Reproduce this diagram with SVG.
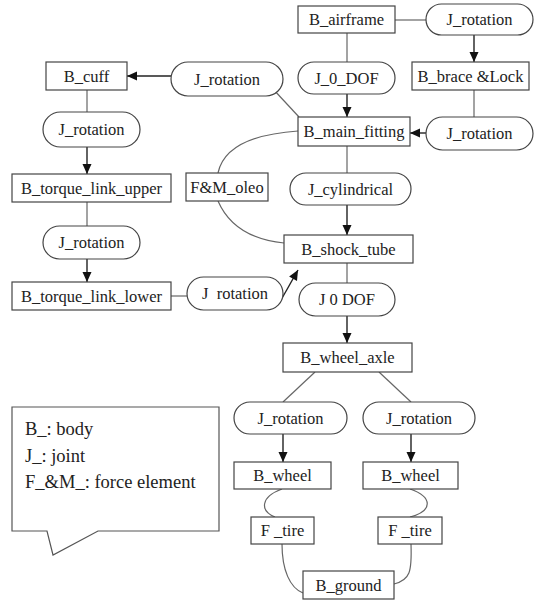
<svg xmlns="http://www.w3.org/2000/svg" width="543" height="601" viewBox="0 0 543 601">
<defs>
<marker id="ah" markerUnits="userSpaceOnUse" markerWidth="12" markerHeight="12" viewBox="0 0 12 12" refX="11" refY="6" orient="auto">
<path d="M1,1.5 L11,6 L1,10.5 Z" fill="#111"/>
</marker>
<style>
.b{fill:#fff;stroke:#444;stroke-width:1.2}
.t{font-family:"Liberation Serif","Times New Roman",serif;font-size:16.5px;fill:#222;text-anchor:middle}
.l{fill:none;stroke:#666;stroke-width:1.2}
.a{fill:none;stroke:#222;stroke-width:1.4;marker-end:url(#ah)}
.g{font-family:"Liberation Serif","Times New Roman",serif;font-size:18.5px;fill:#222}
</style>
</defs>
<rect width="543" height="601" fill="#fff"/>
<g id="connectors">
<line class="l" x1="395" y1="20" x2="426" y2="20"/>
<line class="a" x1="474" y1="35" x2="474" y2="62"/>
<line class="l" x1="474" y1="90" x2="474" y2="117"/>
<line class="a" x1="426" y1="133" x2="410" y2="133"/>
<line class="l" x1="347" y1="33" x2="347" y2="62"/>
<line class="a" x1="347" y1="94" x2="347" y2="117"/>
<line class="a" x1="171" y1="76" x2="127" y2="76"/>
<line class="l" x1="273" y1="89" x2="299" y2="117"/>
<line class="l" x1="87" y1="90" x2="87" y2="112"/>
<line class="a" x1="87" y1="147" x2="87" y2="174"/>
<line class="l" x1="87" y1="202" x2="87" y2="226"/>
<line class="a" x1="87" y1="259" x2="87" y2="282"/>
<line class="l" x1="171" y1="296" x2="187" y2="296"/>
<line class="a" x1="281" y1="300" x2="298" y2="270"/>
<line class="l" x1="347" y1="146" x2="347" y2="173"/>
<line class="a" x1="347" y1="205" x2="347" y2="235"/>
<path class="l" d="M218,173 Q226,136 298,131"/>
<path class="l" d="M218,201 Q234,238 284,243"/>
<line class="l" x1="347" y1="263" x2="347" y2="283"/>
<line class="a" x1="347" y1="316" x2="347" y2="343"/>
<line class="l" x1="315" y1="372" x2="283" y2="402"/>
<line class="l" x1="379" y1="372" x2="411" y2="402"/>
<line class="a" x1="283" y1="434" x2="283" y2="462"/>
<line class="a" x1="411" y1="434" x2="411" y2="462"/>
<path class="l" d="M282,489 C260,497 260,511 275,517"/>
<path class="l" d="M410,489 C433,497 433,511 410,517"/>
<path class="l" d="M282,544 C282,570 290,588 303,593"/>
<path class="l" d="M411,544 C412,572 410,580 394,584"/>
</g>
<g id="B_airframe"><rect class="b" x="298" y="6" width="97" height="27"/><text class="t" x="346.5" y="25">B_airframe</text></g>
<g id="J_rotation_top"><rect class="b" x="426" y="4" width="107" height="31" rx="15.5"/><text class="t" x="479.5" y="25">J_rotation</text></g>
<g id="B_brace_Lock"><rect class="b" x="412" y="62" width="117" height="28"/><text class="t" x="470.5" y="82">B_brace &amp;Lock</text></g>
<g id="J_0_DOF_top"><rect class="b" x="298" y="62" width="97" height="32" rx="16"/><text class="t" x="346.5" y="84">J_0_DOF</text></g>
<g id="B_main_fitting"><rect class="b" x="298" y="117" width="112" height="29"/><text class="t" x="354" y="137">B_main_fitting</text></g>
<g id="J_rotation_mf"><rect class="b" x="426" y="117" width="107" height="33" rx="16.5"/><text class="t" x="479.5" y="139">J_rotation</text></g>
<g id="J_rotation_cuff"><rect class="b" x="171" y="62" width="112" height="34" rx="17"/><text class="t" x="227" y="85">J_rotation</text></g>
<g id="B_cuff"><rect class="b" x="46" y="62" width="81" height="28"/><text class="t" x="86.5" y="82">B_cuff</text></g>
<g id="J_rotation_l1"><rect class="b" x="43" y="112" width="97" height="35" rx="17.5"/><text class="t" x="91.5" y="135">J_rotation</text></g>
<g id="B_torque_link_upper"><rect class="b" x="12" y="174" width="159" height="28"/><text class="t" x="91.5" y="194">B_torque_link_upper</text></g>
<g id="F_M_oleo"><rect class="b" x="186" y="173" width="82" height="28"/><text class="t" x="227" y="193">F&amp;M_oleo</text></g>
<g id="J_cylindrical"><rect class="b" x="290" y="173" width="121" height="32" rx="16"/><text class="t" x="350.5" y="195">J_cylindrical</text></g>
<g id="B_shock_tube"><rect class="b" x="284" y="235" width="129" height="28"/><text class="t" x="348.5" y="255">B_shock_tube</text></g>
<g id="J_rotation_l2"><rect class="b" x="43" y="226" width="97" height="33" rx="16.5"/><text class="t" x="91.5" y="248">J_rotation</text></g>
<g id="B_torque_link_lower"><rect class="b" x="12" y="282" width="159" height="28"/><text class="t" x="91.5" y="302">B_torque_link_lower</text></g>
<g id="J_rotation_l3"><rect class="b" x="187" y="277" width="96" height="33" rx="16.5"/><text class="t" x="235" y="299" xml:space="preserve">J  rotation</text></g>
<g id="J_0_DOF_low"><rect class="b" x="299" y="283" width="96" height="33" rx="16.5"/><text class="t" x="347" y="305">J 0 DOF</text></g>
<g id="B_wheel_axle"><rect class="b" x="283" y="343" width="129" height="29"/><text class="t" x="347.5" y="363">B_wheel_axle</text></g>
<g id="J_rotation_w1"><rect class="b" x="234" y="402" width="113" height="32" rx="16"/><text class="t" x="290.5" y="424">J_rotation</text></g>
<g id="J_rotation_w2"><rect class="b" x="363" y="402" width="112" height="32" rx="16"/><text class="t" x="419" y="424">J_rotation</text></g>
<g id="B_wheel_1"><rect class="b" x="234" y="462" width="97" height="27"/><text class="t" x="282.5" y="481">B_wheel</text></g>
<g id="B_wheel_2"><rect class="b" x="363" y="462" width="95" height="27"/><text class="t" x="410.5" y="481">B_wheel</text></g>
<g id="F_tire_1"><rect class="b" x="251" y="517" width="63" height="27"/><text class="t" x="282.5" y="536">F _tire</text></g>
<g id="F_tire_2"><rect class="b" x="378" y="517" width="64" height="27"/><text class="t" x="410" y="536">F _tire</text></g>
<g id="B_ground"><rect class="b" x="303" y="571" width="91" height="28"/><text class="t" x="348.5" y="591">B_ground</text></g>
<g id="legend">
<path d="M12,407 H219 V531 H98 L53,555 L47,531 H12 Z" fill="#fff" stroke="#555" stroke-width="1.2"/>
<text class="g" x="25" y="435">B_: body</text>
<text class="g" x="25" y="462">J_: joint</text>
<text class="g" x="25" y="488">F_&amp;M_: force element</text>
</g>
</svg>
